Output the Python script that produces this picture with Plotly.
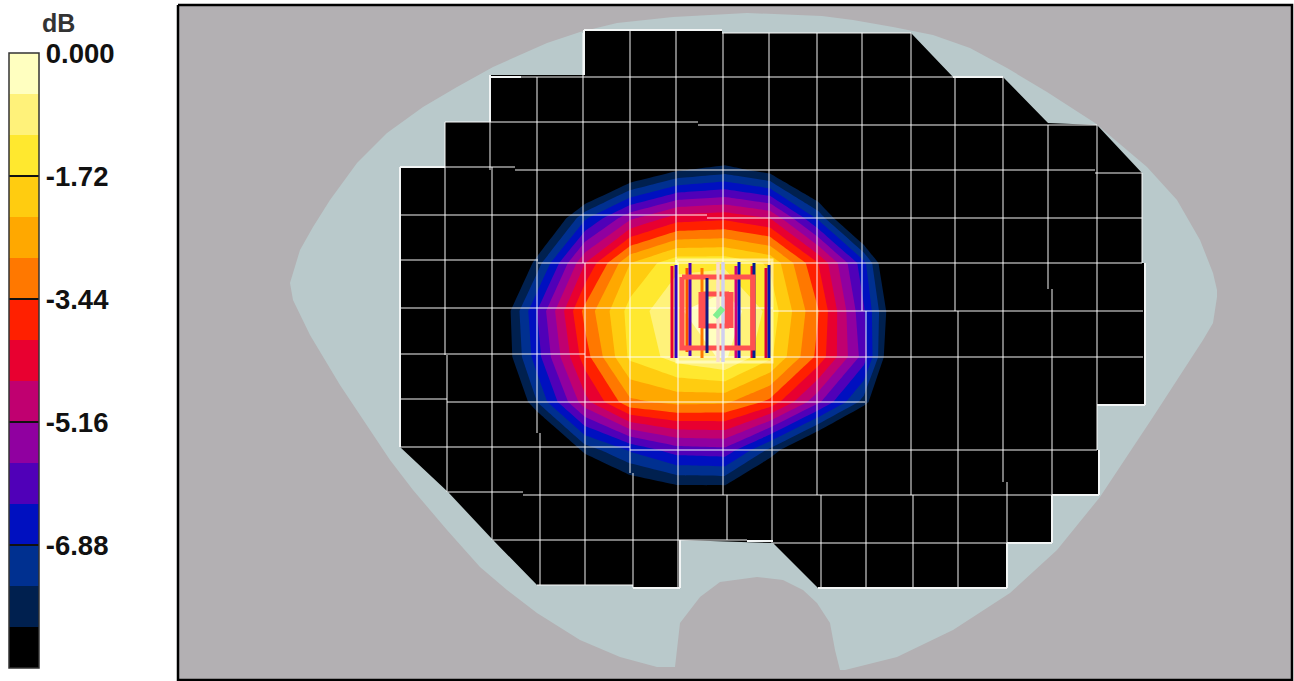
import plotly.graph_objects as go

# ---- colour scale (15 equal dB bands) ----
band_colors = ["#000000", "#00204F", "#003090", "#0010C0", "#5000B8", "#9000A0", "#C00070", "#E80030",
               "#FF2000", "#FF7800", "#FFA800", "#FFCC10", "#FFE82F", "#FFF27A", "#FFFFC0"]
tick_vals = [0.0, -1.72, -3.44, -5.16, -6.88, -8.60]
tick_text = ["0.000", "-1.72", "-3.44", "-5.16", "-6.88", "-8.60"]
db_min, db_max, db_step = -8.6, 0.0, 8.6 / 15

# ---- measured field, dB, at scan nodes ----
node_x = [491, 538, 585, 630, 677, 725, 770, 818, 864, 911]
node_y = [123, 170, 218, 263, 311, 357, 402, 450, 495]
node_db = [
    [-12.0, -12.0, -12.0, -11.0, -11.0, -10.5, -11.0, -12.0, -12.0, -12.0],
    [-12.0, -12.0, -10.5, -9.0, -8.1, -7.75, -8.3, -10.0, -12.0, -12.0],
    [-12.0, -9.6, -7.0, -5.3, -4.3, -4.15, -4.6, -7.0, -10.0, -12.0],
    [-10.5, -7.7, -4.6, -2.3, -1.3, -1.3, -1.8, -4.0, -6.7, -11.0],
    [-9.3, -6.25, -3.25, -1.5, -0.65, -0.1, -1.35, -3.4, -6.25, -10.0],
    [-9.3, -6.5, -3.7, -1.6, -0.9, -0.5, -1.6, -3.6, -6.0, -10.8],
    [-10.4, -7.4, -4.8, -3.0, -2.7, -2.75, -3.6, -5.6, -7.7, -11.0],
    [-12.0, -10.3, -7.8, -6.8, -6.0, -5.9, -7.6, -9.6, -12.0, -12.0],
    [-12.0, -12.0, -10.5, -9.0, -8.6, -8.6, -10.0, -12.0, -12.0, -12.0],
]

# ---- phantom outline ----
phantom_x = [290, 300, 313, 330, 357, 387, 423, 457, 493, 547, 580, 617, 673, 747, 822, 853, 893, 933, 970, 1007,
             1047, 1095, 1147, 1177, 1200, 1213, 1217, 1217, 1213, 1203, 1153, 1100, 1057, 1010, 953, 897, 845, 840,
             835, 830, 817, 803, 783, 757, 720, 700, 680, 675, 657, 620, 580, 537, 507, 480, 447, 413, 390, 380, 340,
             310, 293]
phantom_y = [283, 250, 227, 200, 163, 133, 107, 87, 67, 43, 32, 23, 17, 13, 16, 20, 27, 35, 48, 68,
             92, 123, 167, 200, 240, 273, 290, 297, 323, 340, 417, 497, 550, 593, 630, 657, 670, 670,
             650, 623, 603, 590, 580, 577, 582, 597, 623, 667, 667, 657, 640, 613, 590, 567, 530, 490, 460, 445, 385,
             335, 300]

# ---- scanned area outline ----
scan_x = [584, 722, 722, 911, 953, 1003, 1048, 1097, 1142, 1142, 1145, 1145, 1097, 1097, 1099, 1099, 1052, 1052, 1007,
          1007, 818, 773, 680, 680, 633, 633, 537, 493, 448, 400, 400, 445, 445, 490, 490, 584]
scan_y = [30, 30, 33, 33, 77, 77, 123, 125, 173, 263, 263, 405, 405, 450, 450, 495, 495, 543, 543,
          588, 588, 543, 540, 588, 588, 585, 585, 540, 492, 447, 167, 167, 122, 122, 75, 75]

# ---- scan grid: (level, start, end) ----
grid_h = [(33, 722, 911), (77, 521, 953), (122, 445, 698), (125, 698, 1097), (167, 445, 515), (170, 515, 1095),
          (173, 1095, 1142), (215, 400, 707), (218, 707, 1142), (260, 400, 538), (263, 538, 1142), (308, 400, 773),
          (311, 773, 1143), (354, 400, 585), (357, 585, 1143), (399, 400, 447), (402, 447, 865), (447, 400, 630),
          (450, 630, 1097), (492, 448, 523), (495, 523, 1098), (540, 493, 747), (543, 773, 1007), (585, 537, 633)]
grid_v = [(445, 122, 355), (447, 355, 492), (490, 122, 170), (492, 167, 540), (537, 77, 433), (540, 433, 585),
          (583, 33, 263), (585, 263, 585), (630, 30, 473), (633, 473, 588), (676, 30, 263), (678, 263, 588),
          (723, 33, 495), (727, 495, 540), (769, 33, 357), (772, 357, 543), (817, 33, 495), (821, 495, 588),
          (862, 33, 311), (866, 311, 588), (911, 33, 495), (913, 495, 588), (955, 77, 311), (958, 311, 588),
          (1003, 77, 482), (1007, 482, 543), (1048, 125, 289), (1052, 289, 543), (1097, 125, 450), (1142, 173, 263)]
edge_h = [(30, 584, 722), (77, 490, 521), (77, 953, 1003), (167, 400, 445), (405, 1097, 1145), (495, 1052, 1099),
          (543, 1007, 1052), (541, 747, 773), (588, 633, 680), (588, 818, 866), (588, 866, 1007)]
edge_v = [(400, 167, 447), (490, 75, 122), (584, 30, 75), (1145, 263, 405), (1099, 450, 495), (1052, 495, 543),
          (1007, 543, 588), (680, 540, 588)]

# ---- source outline in the middle ----
frame_x = [677, 772, 772, 677, 677]
frame_y = [260, 260, 362, 362, 260]
coil_x = [682, 753, 753, 682, 682]
coil_y = [277, 277, 348, 348, 277]
loop_side_x = [703, 729]
loop_side_y = [292, 328]
loop_cap_x = [703, 729]
loop_cap_y = [294, 326]
spot_x = [715, 723]
spot_y = [317, 308]
strip_x = [672, 676, 687, 690, 702, 718, 723, 736, 739, 752, 754, 766, 769]
strip_top = [266, 265, 268, 263, 268, 262, 262, 266, 262, 266, 263, 268, 265]
strip_bottom = [358, 358, 352, 356, 358, 362, 362, 358, 358, 358, 358, 358, 358]
strip_colors = ["#E80030", "#3000C0", "#FF5000", "#5000B8", "#FF7800", "#F8DCD0", "#D0D0F0",
                "#D0007A", "#0010C0", "#E80030", "#002090", "#D8003A", "#0018B0"]
over_x = [707, 718, 723]
over_top = [278, 262, 262]
over_bottom = [353, 362, 362]
over_colors = ["#101880", "#F8DCD0", "#D0D0F0"]

panel_x = [178, 1292]
panel_y = [5, 680]


def seg_h(items):
    xs, ys = [], []
    for level, a, b in items:
        xs += [a, b, None]
        ys += [level, level, None]
    return xs, ys


def seg_v(items):
    xs, ys = [], []
    for level, a, b in items:
        xs += [level, level, None]
        ys += [a, b, None]
    return xs, ys


def line(xs, ys, color, width):
    return go.Scatter(x=xs, y=ys, mode="lines", line=dict(color=color, width=width), hoverinfo="skip",
                      showlegend=False, connectgaps=False, xaxis="x2", yaxis="y2")


def area(xs, ys, color):
    return go.Scatter(x=xs, y=ys, mode="lines", fill="toself", fillcolor=color, line=dict(width=0),
                      hoverinfo="skip", showlegend=False)


n = len(band_colors)
colorscale = []
for i, c in enumerate(band_colors):
    colorscale += [[i / n, c], [(i + 1) / n, c]]

fig = go.Figure()
fig.add_trace(area([panel_x[0], panel_x[1], panel_x[1], panel_x[0], panel_x[0]],
                   [panel_y[0], panel_y[0], panel_y[1], panel_y[1], panel_y[0]], "#B3B0B3"))
fig.add_trace(area(phantom_x + phantom_x[:1], phantom_y + phantom_y[:1], "#B9C9CB"))
fig.add_trace(area(scan_x, scan_y, "#000000"))
fig.add_trace(go.Contour(
    x=node_x, y=node_y, z=node_db, zmin=db_min, zmax=db_max, colorscale=colorscale, xaxis="x2", yaxis="y2",
    autocontour=False,
    contours=dict(start=db_min + db_step, end=db_max - db_step + 1e-6, size=db_step, coloring="fill",
                  showlines=False),
    line=dict(width=0, smoothing=0), hoverinfo="skip",
    colorbar=dict(
        x=9 / 1294, xanchor="left", xpad=0, thickness=30, thicknessmode="pixels",
        y=1 - 53 / 681, yanchor="top", ypad=0, len=615 / 681, lenmode="fraction",
        tickmode="array", tickvals=tick_vals, ticktext=tick_text, ticks="inside", ticklen=30,
        tickcolor="#111111", tickwidth=1.5, outlinecolor="#333333", outlinewidth=1.5,
        tickfont=dict(family="Liberation Sans", size=27.5, color="#111111", weight=700),
    ),
))

gx_h, gy_h = seg_h(grid_h)
gx_v, gy_v = seg_v(grid_v)
fig.add_trace(line(gx_h, gy_h, "rgba(255,255,255,0.48)", 2))
fig.add_trace(line(gx_v, gy_v, "rgba(255,255,255,0.48)", 2))
ex_h, ey_h = seg_h(edge_h)
ex_v, ey_v = seg_v(edge_v)
fig.add_trace(line(ex_h, ey_h, "#F2F5F5", 2))
fig.add_trace(line(ex_v, ey_v, "#F2F5F5", 2))

fig.add_trace(line(frame_x, frame_y, "rgba(255,255,225,0.6)", 3))
for x, top, bottom, color in zip(strip_x, strip_top, strip_bottom, strip_colors):
    fig.add_trace(line([x, x], [top, bottom], color, 3))
fig.add_trace(line(coil_x, coil_y, "#FF5050", 5))
for x in loop_side_x:
    fig.add_trace(line([x, x], loop_side_y, "#FF5050", 9))
for y in loop_cap_y:
    fig.add_trace(line(loop_cap_x, [y, y], "#FF5050", 5))
for x, top, bottom, color in zip(over_x, over_top, over_bottom, over_colors):
    fig.add_trace(line([x, x], [top, bottom], color, 3))
fig.add_trace(line(spot_x, spot_y, "#80F090", 6))
fig.add_trace(line([panel_x[0], panel_x[1], panel_x[1], panel_x[0], panel_x[0]],
                   [panel_y[0], panel_y[0], panel_y[1], panel_y[1], panel_y[0]], "#000000", 2.5))

fig.add_annotation(x=58, y=23, text="dB", showarrow=False, xanchor="center", yanchor="middle",
                   font=dict(family="Liberation Sans", size=25, color="#333333", weight=700))

fig.update_layout(
    width=1294, height=681, margin=dict(l=0, r=0, t=0, b=0), paper_bgcolor="#FFFFFF", plot_bgcolor="#FFFFFF",
    showlegend=False,
    xaxis=dict(range=[0, 1294], visible=False, fixedrange=True),
    yaxis=dict(range=[681, 0], visible=False, fixedrange=True),
    xaxis2=dict(range=[0, 1294], visible=False, fixedrange=True, overlaying="x"),
    yaxis2=dict(range=[681, 0], visible=False, fixedrange=True, overlaying="y"),
)
fig.write_html("out.html", config={"displayModeBar": False}, post_script="document.body.style.margin='0';")
